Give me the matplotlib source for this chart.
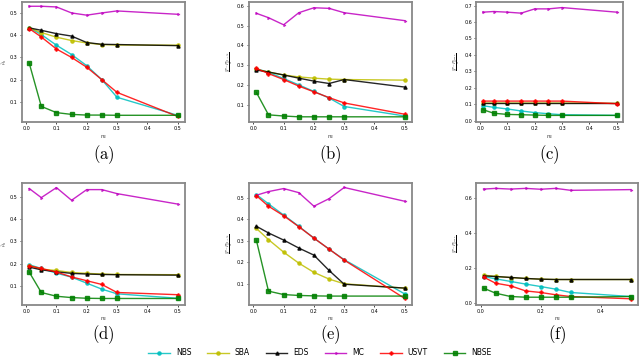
import numpy as np
import matplotlib.pyplot as plt

plt.rcParams['mathtext.fontset'] = 'cm'

m = [0.01, 0.05, 0.1, 0.15, 0.2, 0.25, 0.3, 0.5]

# panel (a)
a_nbs = [0.434, 0.403, 0.355, 0.313, 0.263, 0.200, 0.121, 0.040]
a_sba = [0.433, 0.412, 0.391, 0.376, 0.365, 0.358, 0.356, 0.355]
a_eds = [0.433, 0.422, 0.407, 0.396, 0.367, 0.359, 0.358, 0.353]
a_mc = [0.530, 0.530, 0.527, 0.500, 0.490, 0.500, 0.509, 0.494]
a_usvt = [0.430, 0.392, 0.338, 0.300, 0.256, 0.200, 0.143, 0.035]
a_nbse = [0.275, 0.080, 0.052, 0.044, 0.041, 0.041, 0.040, 0.040]

# panel (b)
b_nbs = [0.283, 0.264, 0.233, 0.201, 0.168, 0.135, 0.092, 0.044]
b_sba = [0.279, 0.266, 0.251, 0.241, 0.235, 0.230, 0.228, 0.225]
b_eds = [0.276, 0.266, 0.251, 0.235, 0.220, 0.208, 0.228, 0.190]
b_mc = [0.562, 0.540, 0.504, 0.565, 0.590, 0.587, 0.565, 0.525]
b_usvt = [0.284, 0.258, 0.228, 0.195, 0.166, 0.137, 0.110, 0.053]
b_nbse = [0.163, 0.050, 0.044, 0.040, 0.040, 0.040, 0.040, 0.040]

# panel (c)
c_nbs = [0.091, 0.081, 0.071, 0.059, 0.049, 0.042, 0.036, 0.032]
c_sba = [0.107, 0.107, 0.107, 0.107, 0.107, 0.107, 0.107, 0.105]
c_eds = [0.105, 0.105, 0.105, 0.105, 0.105, 0.105, 0.105, 0.105]
c_mc = [0.660, 0.664, 0.660, 0.654, 0.680, 0.680, 0.688, 0.660]
c_usvt = [0.119, 0.119, 0.119, 0.119, 0.119, 0.119, 0.119, 0.103]
c_nbse = [0.067, 0.045, 0.038, 0.036, 0.034, 0.032, 0.032, 0.032]

# panel (d)
d_nbs = [0.195, 0.178, 0.157, 0.139, 0.112, 0.085, 0.064, 0.044]
d_sba = [0.191, 0.175, 0.169, 0.160, 0.156, 0.153, 0.151, 0.150]
d_eds = [0.184, 0.172, 0.163, 0.156, 0.153, 0.151, 0.150, 0.148]
d_mc = [0.538, 0.497, 0.542, 0.485, 0.533, 0.533, 0.515, 0.468]
d_usvt = [0.190, 0.178, 0.162, 0.140, 0.123, 0.106, 0.070, 0.060]
d_nbse = [0.162, 0.070, 0.053, 0.047, 0.044, 0.043, 0.043, 0.043]

# panel (e)
e_nbs = [0.514, 0.471, 0.419, 0.367, 0.312, 0.261, 0.212, 0.053]
e_sba = [0.357, 0.305, 0.247, 0.196, 0.153, 0.122, 0.100, 0.080]
e_eds = [0.367, 0.336, 0.303, 0.266, 0.233, 0.162, 0.098, 0.080]
e_mc = [0.511, 0.528, 0.542, 0.523, 0.460, 0.495, 0.547, 0.483]
e_usvt = [0.509, 0.460, 0.416, 0.365, 0.312, 0.261, 0.210, 0.032]
e_nbse = [0.302, 0.066, 0.050, 0.046, 0.044, 0.043, 0.043, 0.043]

# panel (f)
f_nbs = [0.152, 0.139, 0.124, 0.109, 0.095, 0.080, 0.061, 0.038]
f_sba = [0.160, 0.153, 0.146, 0.141, 0.137, 0.135, 0.135, 0.135]
f_eds = [0.156, 0.152, 0.147, 0.141, 0.137, 0.135, 0.135, 0.135]
f_mc = [0.651, 0.655, 0.651, 0.655, 0.650, 0.655, 0.644, 0.648]
f_usvt = [0.149, 0.114, 0.099, 0.070, 0.061, 0.048, 0.038, 0.025]
f_nbse = [0.086, 0.057, 0.038, 0.034, 0.034, 0.034, 0.034, 0.038]

names = ['NBS', 'SBA', 'EDS', 'MC', 'USVT', 'NBSE']
colors = ['c', 'y', 'k', 'm', 'r', 'g']
markers = ['o', 'o', '^', '4', 'P', 's']

panels = [
    ('a', [a_nbs, a_sba, a_eds, a_mc, a_usvt, a_nbse], (0.01, 0.55), [0.1, 0.2, 0.3, 0.4, 0.5],
     [0.034, 0.664, 0.255, 0.331], r'$\hat{\rho}_n$'),
    ('b', [b_nbs, b_sba, b_eds, b_mc, b_usvt, b_nbse], (0.014, 0.62), [0.1, 0.2, 0.3, 0.4, 0.5, 0.6],
     [0.389, 0.664, 0.255, 0.331], r'$\frac{\|\hat{P}-P\|_{2\to\infty}}{n}$'),
    ('c', [c_nbs, c_sba, c_eds, c_mc, c_usvt, c_nbse], (-0.008, 0.723), [0, 0.1, 0.2, 0.3, 0.4, 0.5, 0.6, 0.7],
     [0.744, 0.664, 0.230, 0.331], r'$\frac{\|\hat{P}-P\|_{max}}{n}$'),
    ('d', [d_nbs, d_sba, d_eds, d_mc, d_usvt, d_nbse], (0.014, 0.563), [0.1, 0.2, 0.3, 0.4, 0.5],
     [0.034, 0.160, 0.255, 0.336], r'$\hat{\rho}_n$'),
    ('e', [e_nbs, e_sba, e_eds, e_mc, e_usvt, e_nbse], (0.002, 0.568), [0.1, 0.2, 0.3, 0.4, 0.5],
     [0.389, 0.160, 0.255, 0.336], r'$\frac{\|\hat{P}-P\|_{2\to\infty}}{n}$'),
    ('f', [f_nbs, f_sba, f_eds, f_mc, f_usvt, f_nbse], (-0.01, 0.686), [0, 0.2, 0.4, 0.6],
     [0.744, 0.160, 0.253, 0.336], r'$\frac{\|\hat{P}-P\|_{max}}{n}$'),
]

fig = plt.figure(figsize=(6.4, 3.63), dpi=100)

handles = []
for label, series, ylim, yticks, rect, ylab in panels:
    ax = fig.add_axes(rect)
    hs = []
    for vals, c, mk, nm in zip(series, colors, markers, names):
        h, = ax.plot(m, vals, color=c, marker=mk, ms=2.3, lw=1.0, alpha=0.85, label=nm)
        hs.append(h)
    handles = hs
    ax.set_ylim(*ylim)
    ax.set_xlim(-0.0145, 0.5245)
    ax.set_yticks(yticks)
    if label == 'f':
        ax.set_xticks([0.0, 0.2, 0.4])
    else:
        ax.set_xticks([0.0, 0.1, 0.2, 0.3, 0.4, 0.5])
    ax.tick_params(labelsize=3.5, length=1.5, width=0.5, pad=1.5)
    ax.set_xlabel('$m$', fontsize=4, labelpad=1)
    ax.set_ylabel(ylab, fontsize=3.5, labelpad=1)
    for sp in ax.spines.values():
        sp.set_color('#888888')
        sp.set_linewidth(1.3)
    cx = rect[0] + rect[2] / 2
    cy = 0.573 if rect[1] > 0.5 else 0.078
    fig.text(cx, cy, r'$\mathrm{(' + label + r')}$', ha='center', va='center', fontsize=12)

fig.legend(handles, names, loc='center', bbox_to_anchor=(0.5, 0.028), ncol=6,
           frameon=False, fontsize=5.5, handlelength=2.8, columnspacing=2.1, handletextpad=0.8)

fig.savefig('out.png', dpi=100)
